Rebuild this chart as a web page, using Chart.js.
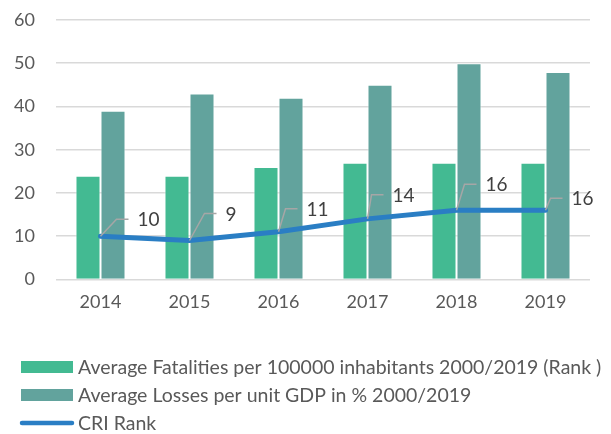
<!DOCTYPE html>
<html><head><meta charset="utf-8">
<script src="https://cdn.jsdelivr.net/npm/chart.js@4/dist/chart.umd.min.js"></script>
<style>html,body{margin:0;padding:0;background:#fff}#wrap{width:611px;height:434px}</style>
</head><body><div id="wrap"><canvas id="c" width="611" height="434"></canvas></div>
<script>
const categories = ['2014','2015','2016','2017','2018','2019'];
const fatalities = [24, 24, 26, 27, 27, 27];
const losses = [39, 43, 42, 45, 50, 48];
const criRank = [10, 9, 11, 14, 16, 16];
const seriesNames = ['Average Fatalities per 100000 inhabitants 2000/2019 (Rank )','Average Losses per unit GDP in % 2000/2019','CRI Rank'];
const yTicks = [0,10,20,30,40,50,60];

// callout leader offsets (styling, px)
const calloutOffsets = [[16,-17],[15,-27],[7,-23],[4,-24],[8,-26],[5,-12]];

const FONT = 'Lato, "Open Sans", sans-serif';

const calloutPlugin = {
  id: 'callouts',
  afterDatasetsDraw(chart) {
    const meta = chart.getDatasetMeta(2);
    const ctx = chart.ctx;
    ctx.save();
    meta.data.forEach((pt, i) => {
      const [dx, dy] = calloutOffsets[i];
      const cx = pt.x + dx, cy = pt.y + dy;
      ctx.strokeStyle = '#a6a6a6';
      ctx.lineWidth = 1.5;
      ctx.beginPath();
      ctx.moveTo(pt.x, pt.y);
      ctx.lineTo(cx, cy);
      ctx.lineTo(cx + 12, cy);
      ctx.stroke();
      ctx.fillStyle = '#404040';
      ctx.font = '19px ' + FONT;
      ctx.textAlign = 'left';
      ctx.textBaseline = 'middle';
      ctx.fillText(String(criRank[i]), cx + 21, cy + 1);
    });
    ctx.restore();
  }
};

const legendPlugin = {
  id: 'customLegend',
  afterDraw(chart) {
    const ctx = chart.ctx;
    ctx.save();
    const rows = [367, 395, 423];
    chart.data.datasets.forEach((ds, i) => {
      const y = rows[i];
      if (ds.type === 'line') {
        ctx.strokeStyle = ds.borderColor;
        ctx.lineWidth = 4.5;
        ctx.lineCap = 'round';
        ctx.beginPath();
        ctx.moveTo(22, y); ctx.lineTo(72, y); ctx.stroke();
      } else {
        ctx.fillStyle = ds.backgroundColor;
        ctx.fillRect(21, y - 6, 52, 12);
      }
      ctx.fillStyle = '#595959';
      ctx.font = '19.5px ' + FONT;
      ctx.textAlign = 'left';
      ctx.textBaseline = 'middle';
      ctx.fillText(ds.label, 78, y + 1);
    });
    ctx.restore();
  }
};

new Chart(document.getElementById('c'), {
  data: {
    labels: categories,
    datasets: [
      { type: 'bar', label: seriesNames[0], data: fatalities, backgroundColor: '#43BA92', borderColor: 'rgba(255,255,255,0.6)', borderWidth: 1, order: 2, categoryPercentage: 0.562, barPercentage: 1 },
      { type: 'bar', label: seriesNames[1], data: losses, backgroundColor: '#62A39D', borderColor: 'rgba(255,255,255,0.6)', borderWidth: 1, order: 2, categoryPercentage: 0.562, barPercentage: 1 },
      { type: 'line', label: seriesNames[2], data: criRank, borderColor: '#2A7EC4', borderWidth: 5, pointRadius: 0, tension: 0, order: 0, borderCapStyle: 'round' }
    ]
  },
  options: {
    responsive: false,
    animation: false,
    layout: { padding: { top: 20, right: 21, bottom: 117, left: 0 } },
    plugins: { legend: { display: false }, tooltip: { enabled: false } },
    scales: {
      x: {
        grid: { display: false }, border: { display: false },
        ticks: { color: '#595959', font: { family: FONT, size: 18 }, padding: 4 }
      },
      y: {
        min: 0, max: 60,
        afterFit(s) { s.width = 56; s.paddingTop = 0; s.paddingBottom = 0; },
        afterBuildTicks(s) { s.ticks = yTicks.map(v => ({ value: v })); },
        grid: { color: '#d9d9d9', lineWidth: 1.5, drawTicks: false },
        border: { display: false },
        ticks: { color: '#595959', font: { family: FONT, size: 18 }, padding: 21 }
      }
    }
  },
  plugins: [calloutPlugin, legendPlugin]
});
</script></body></html>
